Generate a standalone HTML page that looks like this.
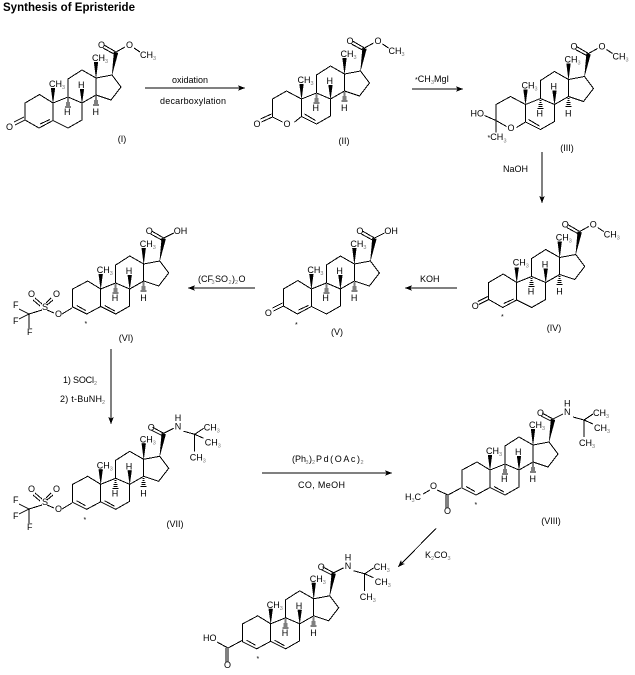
<!DOCTYPE html>
<html lang="en">
<head>
<meta charset="utf-8">
<title>Synthesis of Epristeride</title>
<style>
html,body{margin:0;padding:0;background:#fff;width:635px;height:675px;overflow:hidden}
svg{display:block}
text{font-family:"Liberation Sans",Arial,sans-serif;font-size:9px;fill:#000}
.s{font-size:5.5px;fill:#777}
.t{font-size:11.5px;font-weight:bold}
.st{font-size:7px}
.b{fill:none;stroke:#000;stroke-width:1;shape-rendering:crispEdges}
.f{fill:#000;stroke:#000;stroke-width:.3;shape-rendering:crispEdges}
</style>
</head>
<body>
<svg width="635" height="675" viewBox="0 0 635 675" xmlns="http://www.w3.org/2000/svg">
<defs>
<g id="core">
<path class="b" d="M53 103L68 97L82 103L82 120L68 128L53 120.5L53 103M68 97L68 79L82 70L96 78L96 95L82 103M96 78L112 75L121 87L111 100L96 95"/>
<polygon class="f" points="53,103 51,88 55,88"/>
<polygon class="f" points="96,78 94,62 98,62"/>
<polygon class="f" points="82,103 80,89 84,89"/>
<path class="b" d="M67 99L69 99M67 101L69 101M66 103L70 103M66 105L70 105M65 107L71 107M95 97L97 97M95 99L97 99M94 101L98 101M94 103L98 103M93 105L99 105"/>
</g>
<path id="enone" class="b" d="M53 103L39.5 94.5L25 103L25 120L39 128L53 120.5M40 124L50 119.5M25 120L15 125M24 117L14 122"/>
<path id="diene" class="b" d="M53 103L40 95L25 103L25 121L39 128L53 120.5M29 119.5L38 124.5M57 119.5L67 125"/>
<g id="ester">
<polygon class="f" points="112,75 114,52 118,53"/>
<path class="b" d="M116 52L104 45M114 54L103 48M116 52L125 47M134 48L140 52"/>
</g>
<g id="acid">
<polygon class="f" points="112,75 114,52 118,53"/>
<path class="b" d="M116 52L104 45M114 54L103 48M116 52L126 47"/>
</g>
<g id="amide">
<polygon class="f" points="112,75 114,52 118,53"/>
<path class="b" d="M116 52L105 46M114 54L104 49M116 52L126 47M136 50L147 53M147 53L156 47M147 53L156 57M147 53L147 70"/>
</g>
<g id="otf">
<path class="b" d="M72 308L62 314M54 313L47 310M35 298L42 304M33 300L40 306M51 298L46 303M53 300L47 305M42 310L29 314M29 314L19 309M29 314L19 319M29 314L29 328"/>
</g>
</defs>

<text class="t" x="3" y="11" textLength="132">Synthesis of Epristeride</text>

<!-- I -->
<g transform="translate(0,0)">
<use href="#core"/><use href="#enone"/><use href="#ester"/>
<path class="b" d="M53 120.5L68 128"/>
<text x="49" y="87">CH</text><text class="s" x="62" y="89">3</text>
<text x="92" y="61">CH</text><text class="s" x="105" y="63">3</text>
<text x="78" y="88">H</text><text x="64" y="115">H</text><text x="92.5" y="115">H</text>
<text x="98" y="48">O</text><text x="126" y="48">O</text>
<text x="140" y="58">CH</text><text class="s" x="153" y="60">3</text>
<text x="6" y="130">O</text>
</g>
<text x="122" y="142" text-anchor="middle">(I)</text>

<!-- II -->
<g transform="translate(248.5,-4)">
<use href="#core"/>
<path class="b" d="M53 103L38 95L24 103L24 121L34 126M46 126L53 120.5M56 118L67 124.5M24 121L13 126M23 118L12 123"/>
<use href="#ester"/>
<text x="49" y="87">CH</text><text class="s" x="62" y="89">3</text>
<text x="92" y="61">CH</text><text class="s" x="105" y="63">3</text>
<text x="78" y="88">H</text><text x="64" y="115">H</text><text x="92.5" y="115">H</text>
<text x="98" y="48">O</text><text x="126" y="48">O</text>
<text x="140" y="58">CH</text><text class="s" x="153" y="60">3</text>
<text x="5" y="131">O</text><text x="35" y="131">O</text>
</g>
<text x="344" y="144" text-anchor="middle">(II)</text>

<!-- III -->
<g transform="translate(472.5,1.5)">
<use href="#core"/>
<path class="b" d="M53 103L38 95L23.5 103L23.5 119L34 125M44 126L53 120.5M56 118L67 124.5M23.5 119L12 114M23.5 119L23.5 131"/>
<use href="#ester"/>
<text x="49" y="87">CH</text><text class="s" x="62" y="89">3</text>
<text x="92" y="61">CH</text><text class="s" x="105" y="63">3</text>
<text x="78" y="88">H</text><text x="64" y="115">H</text><text x="92.5" y="115">H</text>
<text x="98" y="48">O</text><text x="126" y="48">O</text>
<text x="140" y="58">CH</text><text class="s" x="153" y="60">3</text>
<text x="-2" y="115">HO</text><text x="35" y="129.5">O</text>
<text x="15" y="138.5"><tspan class="st">*</tspan>CH</text><text class="s" x="31" y="141">3</text>
</g>
<text x="567" y="151" text-anchor="middle">(III)</text>

<!-- IV -->
<g transform="translate(463.7,179.5)">
<use href="#core"/><use href="#enone"/><use href="#ester"/>
<text x="49" y="86">CH</text><text class="s" x="62" y="88">3</text>
<text x="92" y="61">CH</text><text class="s" x="105" y="63">3</text>
<text x="78" y="88">H</text><text x="64" y="115">H</text><text x="92.5" y="115">H</text>
<text x="98" y="48">O</text><text x="126" y="48">O</text>
<text x="140" y="58">CH</text><text class="s" x="153" y="60">3</text>
<text x="8" y="129.5">O</text>
</g>
<text class="st" x="501" y="319">*</text>
<text x="554" y="331" text-anchor="middle">(IV)</text>

<!-- V -->
<g transform="translate(258.4,186)">
<use href="#core"/><use href="#enone"/><use href="#acid"/>
<text x="49" y="87">CH</text><text class="s" x="62" y="89">3</text>
<text x="92" y="61">CH</text><text class="s" x="105" y="63">3</text>
<text x="78" y="88">H</text><text x="64" y="115">H</text><text x="92.5" y="115">H</text>
<text x="98" y="48">O</text><text x="126" y="48">OH</text>
<text x="6.5" y="130">O</text>
</g>
<text class="st" x="295" y="327">*</text>
<text x="337" y="335" text-anchor="middle">(V)</text>

<!-- VI -->
<g transform="translate(47.7,186)">
<use href="#core"/><use href="#diene"/><use href="#acid"/>
<text x="49" y="87">CH</text><text class="s" x="62" y="89">3</text>
<text x="92" y="61">CH</text><text class="s" x="105" y="63">3</text>
<text x="78" y="88">H</text><text x="64" y="115">H</text><text x="92.5" y="115">H</text>
<text x="98" y="48">O</text><text x="126" y="48">OH</text>
</g>
<use href="#otf"/>
<text x="55" y="317">O</text><text x="42" y="310">S</text><text x="28" y="297">O</text><text x="53" y="297">O</text>
<text x="13" y="308">F</text><text x="13" y="324">F</text><text x="27" y="335">F</text>
<text class="st" x="84.5" y="326">*</text>
<text x="126" y="341" text-anchor="middle">(VI)</text>

<!-- VII -->
<g transform="translate(47.7,381.3)">
<use href="#core"/><use href="#diene"/><use href="#amide"/>
<text x="49" y="87">CH</text><text class="s" x="62" y="89">3</text>
<text x="92" y="61">CH</text><text class="s" x="105" y="63">3</text>
<text x="78" y="88">H</text><text x="64" y="115">H</text><text x="92.5" y="115">H</text>
<text x="100" y="49">O</text><text x="127" y="48">N</text><text x="127" y="39.5">H</text>
<text x="156" y="49">CH</text><text class="s" x="169" y="51">3</text>
<text x="157" y="64">CH</text><text class="s" x="170" y="66">3</text>
<text x="142" y="79">CH</text><text class="s" x="155" y="81">3</text>
</g>
<g transform="translate(0,195)">
<use href="#otf"/>
<text x="55" y="317">O</text><text x="42" y="310">S</text><text x="28" y="297">O</text><text x="53" y="297">O</text>
<text x="13" y="308">F</text><text x="13" y="324">F</text><text x="27" y="335">F</text>
</g>
<text class="st" x="83.5" y="522">*</text>
<text x="175" y="527" text-anchor="middle">(VII)</text>

<!-- VIII -->
<g transform="translate(437,367)">
<use href="#core"/><use href="#diene"/><use href="#amide"/>
<text x="49" y="87">CH</text><text class="s" x="62" y="89">3</text>
<text x="92" y="61">CH</text><text class="s" x="105" y="63">3</text>
<text x="78" y="88">H</text><text x="64" y="115">H</text><text x="92.5" y="115">H</text>
<text x="100" y="49">O</text><text x="127" y="48">N</text><text x="127" y="39.5">H</text>
<text x="156" y="49">CH</text><text class="s" x="169" y="51">3</text>
<text x="157" y="64">CH</text><text class="s" x="170" y="66">3</text>
<text x="142" y="79">CH</text><text class="s" x="155" y="81">3</text>
</g>
<path class="b" d="M461 488L448 495M448 495L448 508M446 495L446 508M448 495L437 490M430 490L423 494"/>
<text x="405" y="500">H</text><text class="s" x="411.5" y="502">3</text><text x="414.5" y="500">C</text>
<text x="430" y="489">O</text><text x="444" y="514">O</text>
<text class="st" x="474.5" y="507">*</text>
<text x="551" y="524" text-anchor="middle">(VIII)</text>

<!-- IX -->
<g transform="translate(217.7,520.8)">
<use href="#core"/><use href="#diene"/><use href="#amide"/>
<text x="49" y="87">CH</text><text class="s" x="62" y="89">3</text>
<text x="92" y="61">CH</text><text class="s" x="105" y="63">3</text>
<text x="78" y="88">H</text><text x="64" y="115">H</text><text x="92.5" y="115">H</text>
<text x="100" y="49">O</text><text x="127" y="48">N</text><text x="127" y="39.5">H</text>
<text x="156" y="49">CH</text><text class="s" x="169" y="51">3</text>
<text x="157" y="64">CH</text><text class="s" x="170" y="66">3</text>
<text x="142" y="79">CH</text><text class="s" x="155" y="81">3</text>
</g>
<path class="b" d="M243 640L228 648M228 648L228 662M226 648L226 662M228 648L217 642"/>
<text x="203" y="641">HO</text><text x="224" y="668">O</text>
<text class="st" x="256.5" y="661">*</text>

<!-- Arrows -->
<path class="b" d="M145 88L241 88"/><polygon class="f" points="245,88 238,85.5 240,88 238,90.5"/>
<text x="190" y="83" text-anchor="middle">oxidation</text>
<text x="160" y="104" textLength="66">decarboxylation</text>

<path class="b" d="M412 89L459 89"/><polygon class="f" points="463,89 456,86.5 458,89 456,91.5"/>
<text x="415" y="82"><tspan class="st">*</tspan>CH</text><text class="s" x="431" y="84">3</text><text x="434" y="82">MgI</text>

<path class="b" d="M542 152L542 199"/><polygon class="f" points="542,203 539.5,196 542,198 544.5,196"/>
<text x="503" y="172">NaOH</text>

<path class="b" d="M457 288L409 288"/><polygon class="f" points="405,288 412,285.5 410,288 412,290.5"/>
<text x="420" y="282">KOH</text>

<path class="b" d="M255 288L192 288"/><polygon class="f" points="188,288 195,285.5 193,288 195,290.5"/>
<text x="198" y="282">(CF</text><text class="s" x="211.5" y="284">3</text><text x="215" y="282">SO</text><text class="s" x="228.5" y="284">2</text><text x="232" y="282">)</text><text class="s" x="235" y="284">2</text><text x="238.5" y="282">O</text>

<path class="b" d="M111 349L111 420"/><polygon class="f" points="111,424 108.5,417 111,419 113.5,417"/>
<text x="63" y="383" textLength="31">1) SOCl</text><text class="s" x="94" y="385">2</text>
<text x="60" y="402" textLength="42">2) t-BuNH</text><text class="s" x="102" y="404">2</text>

<path class="b" d="M262 473L388 473"/><polygon class="f" points="392,473 385,470.5 387,473 385,475.5"/>
<text x="292" y="462">(Ph</text><text class="s" x="305.5" y="464">3</text><text x="309" y="462">)</text><text class="s" x="312" y="464">2</text><text x="316" y="462" textLength="44">Pd(OAc)</text><text class="s" x="360.5" y="464">2</text>
<text x="298" y="488" textLength="47">CO, MeOH</text>

<path class="b" d="M436 528.5L401.5 563.5"/><polygon class="f" points="398,567 404.7,563.8 401.5,563.5 401.1,560.3"/>
<text x="425" y="558">K</text><text class="s" x="431" y="560">2</text><text x="434" y="558">CO</text><text class="s" x="447.5" y="560">3</text>
</svg>
</body>
</html>
